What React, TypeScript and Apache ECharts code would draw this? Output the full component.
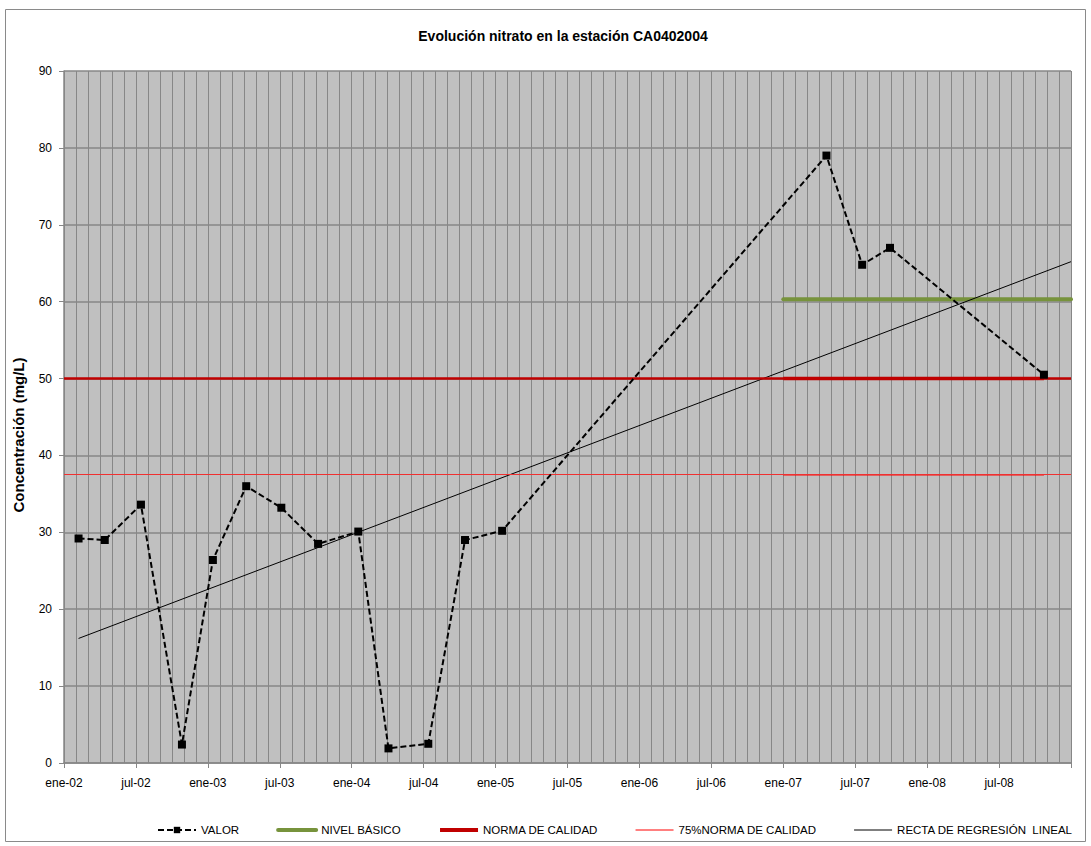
import React, { useEffect, useRef } from "react";
import * as echarts from "echarts";

const TITLE = "Evolución nitrato en la estación CA0402004";
const Y_NAME = "Concentración (mg/L)";

// Sample dates and nitrate values (VALOR)
const sampleDates = [
  "2002-02-07", "2002-04-13", "2002-07-14", "2002-10-27", "2003-01-14",
  "2003-04-07", "2003-07-05", "2003-10-07", "2004-01-18", "2004-04-03",
  "2004-07-13", "2004-10-15", "2005-01-18", "2007-04-19", "2007-07-19",
  "2007-09-28", "2008-10-24",
];
const sampleValues = [
  29.2, 29.0, 33.6, 2.4, 26.4,
  36.0, 33.2, 28.5, 30.1, 1.9,
  2.5, 29.0, 30.2, 79.0, 64.8,
  67.0, 50.5,
];

// Reference levels
const nivelBasico = 60.3;
const normaCalidad = 50;
const norma75 = 37.5;
const refStartDate = "2007-01-01";
const axisEndDate = "2009-01-01";

// Regression line endpoints
const regressionDates = ["2002-02-07", "2009-01-01"];
const regressionValues = [16.2, 65.2];

const legendNames = ["VALOR", "NIVEL BÁSICO", "NORMA DE CALIDAD", "75%NORMA DE CALIDAD", "RECTA DE REGRESIÓN  LINEAL"];
const legendLineWidths = [2, 4, 4, 1, 1];

const monthNames = ["ene", "feb", "mar", "abr", "may", "jun", "jul", "ago", "sep", "oct", "nov", "dic"];
const START_YEAR = 2002;

function toMonth(s: string): number {
  const [y, m, d] = s.split("-").map(Number);
  const dim = new Date(y, m, 0).getDate();
  return (y - START_YEAR) * 12 + (m - 1) + (d - 1) / dim;
}

const FONT = "'Liberation Sans', Arial, sans-serif";

export default function App() {
  const ref = useRef<HTMLDivElement>(null);
  useEffect(() => {
    if (!ref.current) return;
    const chart = echarts.init(ref.current, undefined, { renderer: "svg" });
    const lastX = toMonth(sampleDates[sampleDates.length - 1]);
    const refStart = toMonth(refStartDate);
    const axisEnd = toMonth(axisEndDate);
    const valor = sampleDates.map((d, i) => [toMonth(d), sampleValues[i]]);
    const gridColor = "#878787";
    chart.setOption({
      animation: false,
      backgroundColor: "#ffffff",
      textStyle: { fontFamily: FONT },
      title: {
        text: TITLE,
        left: 558,
        top: 24,
        textAlign: "center",
        textStyle: { fontSize: 14, fontWeight: "bold", color: "#000", fontFamily: FONT },
      },
      graphic: [
        {
          type: "rect",
          shape: { x: 5.5, y: 9.5, width: 1080, height: 832 },
          style: { fill: "none", stroke: "#8a8a8a", lineWidth: 1 },
          silent: true,
          z: -1,
        },
        {
          type: "text",
          x: 18,
          y: 435,
          rotation: Math.PI / 2,
          style: {
            text: Y_NAME,
            fontSize: 15,
            fontWeight: "bold",
            fill: "#000",
            fontFamily: FONT,
            align: "center",
            verticalAlign: "middle",
          },
          silent: true,
        },
      ],
      grid: {
        left: 64,
        right: 20,
        top: 71,
        bottom: 83,
        show: true,
        backgroundColor: "#C0C0C0",
        borderWidth: 0,
      },
      legend: {
        left: 152,
        top: 819,
        itemWidth: 38,
        itemHeight: 8,
        itemGap: 37,
        textStyle: { fontSize: 11.5, color: "#000", fontFamily: FONT },
        data: legendNames.map((n, i) =>
          i === 0
            ? { name: n }
            : { name: n, itemStyle: { opacity: 0 }, lineStyle: { width: legendLineWidths[i] } }
        ),
      },
      xAxis: {
        type: "value",
        min: 0,
        max: axisEnd,
        interval: 6,
        axisLine: { show: true, lineStyle: { color: gridColor, width: 1.5 } },
        axisTick: { show: true, length: 5, lineStyle: { color: gridColor } },
        minorTick: { show: false, splitNumber: 6 },
        splitLine: { show: true, lineStyle: { color: gridColor, width: 1 } },
        minorSplitLine: { show: true, lineStyle: { color: gridColor, width: 1 } },
        axisLabel: {
          margin: 14,
          fontSize: 12,
          color: "#000",
          fontFamily: FONT,
          formatter: (v: number) => {
            const idx = Math.round(v);
            if (idx >= axisEnd) return "";
            const y = START_YEAR + Math.floor(idx / 12);
            const m = idx % 12;
            return monthNames[m] + "-" + String(y).slice(2);
          },
        },
      },
      yAxis: {
        type: "value",
        min: 0,
        max: 90,
        interval: 10,
        axisLine: { show: true, lineStyle: { color: gridColor, width: 1.5 } },
        axisTick: { show: true, length: 5, lineStyle: { color: gridColor } },
        splitLine: { show: true, lineStyle: { color: gridColor, width: 1.5 } },
        axisLabel: { margin: 12, fontSize: 12, color: "#000", fontFamily: FONT },
      },
      series: [
        {
          name: legendNames[2],
          type: "line",
          data: [[refStart, normaCalidad], [lastX, normaCalidad]],
          symbol: "none",
          lineStyle: { color: "#C00000", width: 3.5 },
          itemStyle: { color: "#C00000" },
          z: 3,
          markLine: {
            silent: true,
            symbol: "none",
            label: { show: false },
            lineStyle: { color: "#C00000", width: 2.5, type: "solid" },
            data: [{ yAxis: normaCalidad }],
          },
        },
        {
          name: legendNames[3],
          type: "line",
          data: [[refStart, norma75], [lastX, norma75]],
          symbol: "none",
          lineStyle: { color: "#FF0000", width: 1.5 },
          itemStyle: { color: "#FF0000" },
          z: 3,
          markLine: {
            silent: true,
            symbol: "none",
            label: { show: false },
            lineStyle: { color: "#F03030", width: 1, type: "solid" },
            data: [{ yAxis: norma75 }],
          },
        },
        {
          name: legendNames[1],
          type: "line",
          data: [[refStart, nivelBasico], [axisEnd, nivelBasico]],
          symbol: "none",
          lineStyle: { color: "#77933C", width: 4, cap: "round" },
          itemStyle: { color: "#77933C" },
          z: 3,
        },
        {
          name: legendNames[4],
          type: "line",
          data: regressionDates.map((d, i) => [toMonth(d), regressionValues[i]]),
          symbol: "none",
          lineStyle: { color: "#000", width: 1 },
          itemStyle: { color: "#000" },
          z: 4,
        },
        {
          name: legendNames[0],
          type: "line",
          data: valor,
          symbol: "rect",
          symbolSize: 8,
          showSymbol: true,
          lineStyle: { color: "#000", width: 2, type: [6, 3] },
          itemStyle: { color: "#000" },
          z: 5,
        },
      ],
    });
    return () => chart.dispose();
  }, []);
  return (
    <div
      ref={ref}
      style={{ position: "fixed", left: 0, top: 0, width: 1091, height: 846 }}
    />
  );
}
